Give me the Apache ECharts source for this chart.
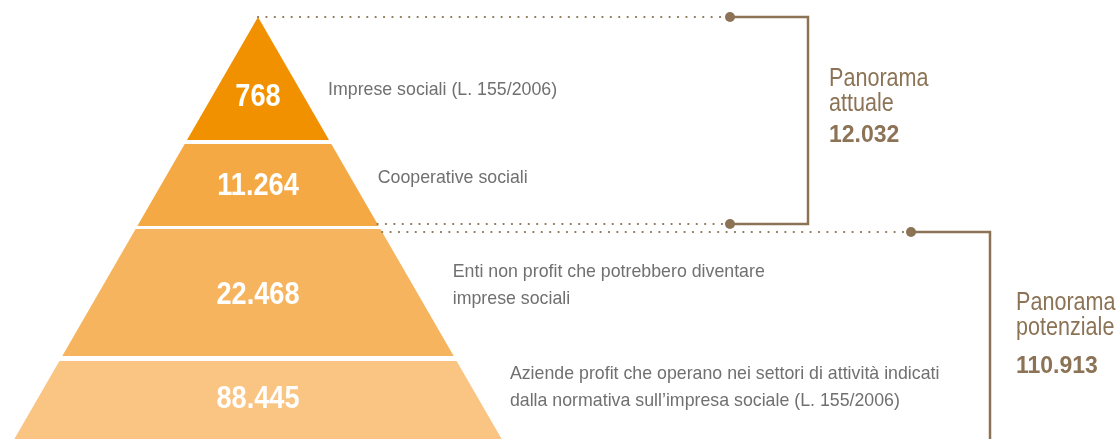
<!DOCTYPE html>
<html>
<head>
<meta charset="utf-8">
<script src="https://cdn.jsdelivr.net/npm/echarts@6/dist/echarts.min.js"></script>
<style>
    html, body { margin: 0; padding: 0; background: #fff; }
    #chartContainer { width: 1116px; height: 439px; }
</style>
</head>
<body>
<div id="chartContainer"></div>
<script>
// fasce della piramide, dall'alto verso il basso
var tierNames = [
    'Imprese sociali (L. 155/2006)',
    'Cooperative sociali',
    'Enti non profit che potrebbero diventare\nimprese sociali',
    'Aziende profit che operano nei settori di attività indicati\ndalla normativa sull\u2019impresa sociale (L. 155/2006)'
];
var tierCounts = [768, 11264, 22468, 88445];

// raggruppamenti a destra
var groupNames = ['Panorama\nattuale', 'Panorama\npotenziale'];
var groupTotals = [12032, 110913];

// layout (unità degli assi = pixel, origine all'apice)
var tierColors = ['#F29100', '#F5A945', '#F7B45F', '#FAC482'];
var bandDepth = [[0, 123], [127, 209], [212, 339], [344, 438]];
var descShift = [-7, -9, -10, -12];
var VISIBLE_DEPTH = 422;
var TAN30 = Math.tan(Math.PI / 6);
var bracketDepth = [[0, 207], [215, 427]];
var bracketX = [550, 732];
var dotX = [472, 653];
var bracketLabelGap = [21, 26];
var nameDepth = [61.5, 285.5];   // centro della prima riga
var totalDepth = [118.3, 350];

var BROWN = '#8C7356';
var FONT = "'Liberation Sans', Arial, sans-serif";

function fmt(v) {
    return String(v).replace(/\B(?=(\d{3})+(?!\d))/g, '.');
}

function renderTier(params, api) {
    var i = params.dataIndex;
    var top = bandDepth[i][0];
    var bottom = bandDepth[i][1];
    var pts = [
        api.coord([-top * TAN30, top]),
        api.coord([top * TAN30, top]),
        api.coord([bottom * TAN30, bottom]),
        api.coord([-bottom * TAN30, bottom])
    ];
    // baricentro della parte visibile della fascia
    var vb = Math.min(bottom, VISIBLE_DEPTH);
    var a = 2 * top * TAN30, b = 2 * vb * TAN30, h = vb - top;
    var cy = vb - h * (2 * a + b) / (3 * (a + b)) - 2;
    var valuePos = api.coord([0, cy]);
    var descPos = api.coord([bottom * TAN30 - 1, cy + descShift[i]]);
    return {
        type: 'group',
        children: [
            {
                type: 'polygon',
                shape: {points: pts},
                style: {fill: tierColors[i]}
            },
            {
                type: 'text',
                x: valuePos[0],
                y: valuePos[1],
                scaleX: 0.85,
                style: {
                    text: fmt(api.value(1)),
                    fill: '#fff',
                    fontSize: 32,
                    fontWeight: 'bold',
                    fontFamily: FONT,
                    align: 'center',
                    verticalAlign: 'middle'
                }
            },
            {
                type: 'text',
                x: descPos[0],
                y: descPos[1],
                scaleX: 0.935,
                style: {
                    text: tierNames[i],
                    fill: '#707070',
                    fontSize: 19,
                    fontFamily: FONT,
                    lineHeight: 26.5,
                    align: 'left',
                    verticalAlign: 'middle'
                }
            }
        ]
    };
}

function renderBracket(params, api) {
    var g = params.dataIndex;
    var top = bracketDepth[g][0];
    var bottom = bracketDepth[g][1];
    var edgeTop = api.coord([top * TAN30, top]);
    var edgeBottom = api.coord([bottom * TAN30, bottom]);
    var dotTop = api.coord([dotX[g], top]);
    var dotBottom = api.coord([dotX[g], bottom]);
    var barTop = api.coord([bracketX[g], top]);
    var barBottom = api.coord([bracketX[g], bottom]);
    var namePos = api.coord([bracketX[g], nameDepth[g]]);
    var totalPos = api.coord([bracketX[g], totalDepth[g]]);
    var dotted = {stroke: BROWN, lineWidth: 2.2, lineDash: [0.1, 8.3], lineCap: 'round'};
    return {
        type: 'group',
        children: [
            {type: 'line', shape: {x1: edgeTop[0], y1: edgeTop[1], x2: dotTop[0], y2: dotTop[1]}, style: dotted},
            {type: 'line', shape: {x1: edgeBottom[0], y1: edgeBottom[1], x2: dotBottom[0], y2: dotBottom[1]}, style: dotted},
            {
                type: 'polyline',
                shape: {points: [dotTop, barTop, barBottom, dotBottom]},
                style: {stroke: BROWN, lineWidth: 2.5, fill: null}
            },
            {type: 'circle', shape: {cx: dotTop[0], cy: dotTop[1], r: 5}, style: {fill: BROWN}},
            {type: 'circle', shape: {cx: dotBottom[0], cy: dotBottom[1], r: 5}, style: {fill: BROWN}},
            {
                type: 'text',
                x: namePos[0] + bracketLabelGap[g],
                y: namePos[1] - 12.5,
                scaleX: 0.83,
                style: {
                    text: groupNames[g],
                    fill: BROWN,
                    fontSize: 26,
                    fontFamily: FONT,
                    lineHeight: 25,
                    align: 'left',
                    verticalAlign: 'top'
                }
            },
            {
                type: 'text',
                x: totalPos[0] + bracketLabelGap[g],
                y: totalPos[1],
                style: {
                    text: fmt(api.value(1)),
                    fill: BROWN,
                    fontSize: 23,
                    fontWeight: 'bold',
                    fontFamily: FONT,
                    align: 'left',
                    verticalAlign: 'middle'
                }
            }
        ]
    };
}

var chart = echarts.init(document.getElementById('chartContainer'));
var option = {
    animation: false,
    grid: {left: 0, right: 0, top: 17, bottom: 0},
    xAxis: {type: 'value', min: -258, max: 858, show: false},
    yAxis: {type: 'value', inverse: true, min: 0, max: VISIBLE_DEPTH, show: false},
    series: [
        {
            type: 'custom',
            renderItem: renderTier,
            data: tierCounts.map(function (v, i) { return [i, v]; })
        },
        {
            type: 'custom',
            renderItem: renderBracket,
            data: groupTotals.map(function (v, i) { return [i, v]; })
        }
    ]
};
chart.setOption(option);
</script>
</body>
</html>
